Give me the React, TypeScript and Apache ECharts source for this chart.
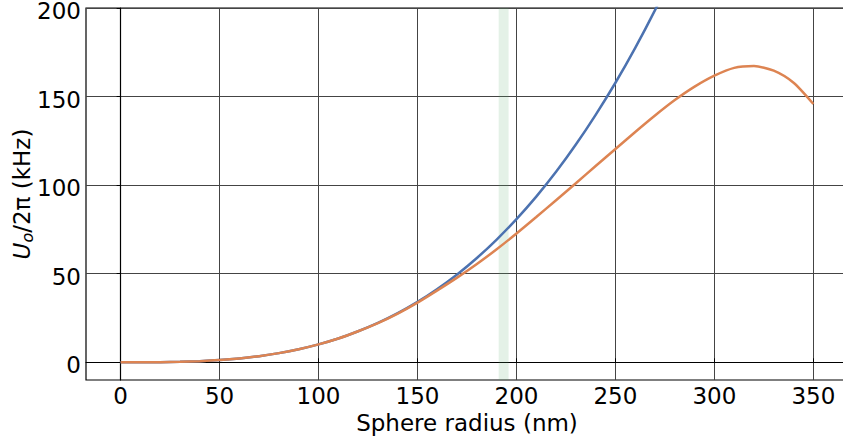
import React, { useEffect, useRef } from "react";
import * as echarts from "echarts";

const radii = [0, 10, 20, 30, 40, 50, 60, 70, 80, 90, 100, 110, 120, 130, 140, 150, 160, 170, 180, 190, 200, 210, 220, 230, 240, 250, 260, 270, 280, 290, 300, 310, 320, 330, 340, 350];
const blueValues = [0, 0.01, 0.08, 0.27, 0.65, 1.26, 2.18, 3.46, 5.17, 7.36, 10.1, 13.4, 17.5, 22.2, 27.7, 34.1, 41.4, 49.6, 58.9, 69.3, 80.8, 93.5, 107.5, 122.9, 139.7, 157.8, 177.5, 198.8, 221.7];
const orangeValues = [0, 0.01, 0.08, 0.27, 0.65, 1.26, 2.18, 3.46, 5.17, 7.36, 10.1, 13.4, 17.5, 22.1, 27.5, 33.7, 40.6, 47.8, 55.5, 63.8, 72.7, 82.0, 91.5, 101.1, 110.8, 120.4, 130.0, 139.3, 148.0, 155.6, 161.8, 166.2, 167.2, 164.6, 157.8, 145.8];
const band = [191, 196];
const xTicks = [0, 50, 100, 150, 200, 250, 300, 350];
const yTicks = [0, 50, 100, 150, 200];

const FONT = "DejaVu Sans";

export default function App() {
  const ref = useRef<HTMLDivElement>(null);
  useEffect(() => {
    if (!ref.current) return;
    const chart = echarts.init(ref.current, null, { renderer: "svg" });
    const blue = blueValues.map((v, i) => [radii[i], v]);
    const orange = orangeValues.map((v, i) => [radii[i], v]);
    chart.setOption({
      animation: false,
      backgroundColor: "#ffffff",
      grid: {
        left: 86,
        top: 8,
        width: 762,
        height: 372,
        outerBoundsMode: "none",
        containLabel: false,
        show: true,
        borderColor: "#000",
        borderWidth: 1.2,
        backgroundColor: "transparent",
      },
      xAxis: {
        type: "value",
        min: -17.5,
        max: 367.5,
        name: "Sphere radius (nm)",
        nameLocation: "middle",
        nameGap: 31,
        nameMoveOverlap: false,
        nameTextStyle: { fontFamily: FONT, fontSize: 23, color: "#000" },
        axisLine: { show: true, lineStyle: { color: "#000", width: 1.2 } },
        axisTick: { show: true, inside: true, length: 4, customValues: xTicks, lineStyle: { color: "#000" } },
        axisLabel: { customValues: xTicks, fontFamily: FONT, fontSize: 23, color: "#000", margin: 4 },
        splitLine: { show: true, lineStyle: { color: "#444", width: 1 } },
      },
      yAxis: {
        type: "value",
        min: -10,
        max: 200,
        name: "{i|U}{s|o}{n|/2}{n|π}{n| (kHz)}",
        nameLocation: "middle",
        nameRotate: 90,
        nameGap: 51,
        nameMoveOverlap: false,
        nameTextStyle: {
          fontFamily: FONT,
          fontSize: 23,
          color: "#000",
          rich: {
            i: { fontFamily: FONT, fontSize: 23, fontStyle: "italic", color: "#000", lineHeight: 26, verticalAlign: "middle" },
            s: { fontFamily: FONT, fontSize: 16, fontStyle: "italic", color: "#000", lineHeight: 19, verticalAlign: "bottom" },
            n: { fontFamily: FONT, fontSize: 23, color: "#000", lineHeight: 26, verticalAlign: "middle" },
          },
        },
        axisLine: { show: true, lineStyle: { color: "#000", width: 1.2 } },
        axisTick: { show: true, inside: false, length: 4, customValues: yTicks, lineStyle: { color: "#000" } },
        axisLabel: {
          customValues: yTicks,
          fontFamily: FONT,
          fontSize: 23,
          color: "#000",
          margin: 5,
          verticalAlign: "top",
          lineHeight: 6,
        },
        splitLine: { show: true, lineStyle: { color: "#444", width: 1 } },
      },
      series: [
        {
          type: "line",
          data: blue,
          showSymbol: false,
          smooth: 0.25,
          clip: true,
          lineStyle: { color: "#4c72b0", width: 2.5 },
          markArea: {
            silent: true,
            itemStyle: { color: "rgba(85,168,104,0.16)" },
            data: [[{ xAxis: band[0] }, { xAxis: band[1] }]],
          },
        },
        {
          type: "line",
          data: orange,
          showSymbol: false,
          smooth: 0.25,
          clip: true,
          lineStyle: { color: "#dd8452", width: 2.5 },
        },
      ],
    });
    return () => chart.dispose();
  }, []);
  return (
    <div
      ref={ref}
      style={{ position: "fixed", left: 0, top: 0, width: 843, height: 441 }}
    />
  );
}
